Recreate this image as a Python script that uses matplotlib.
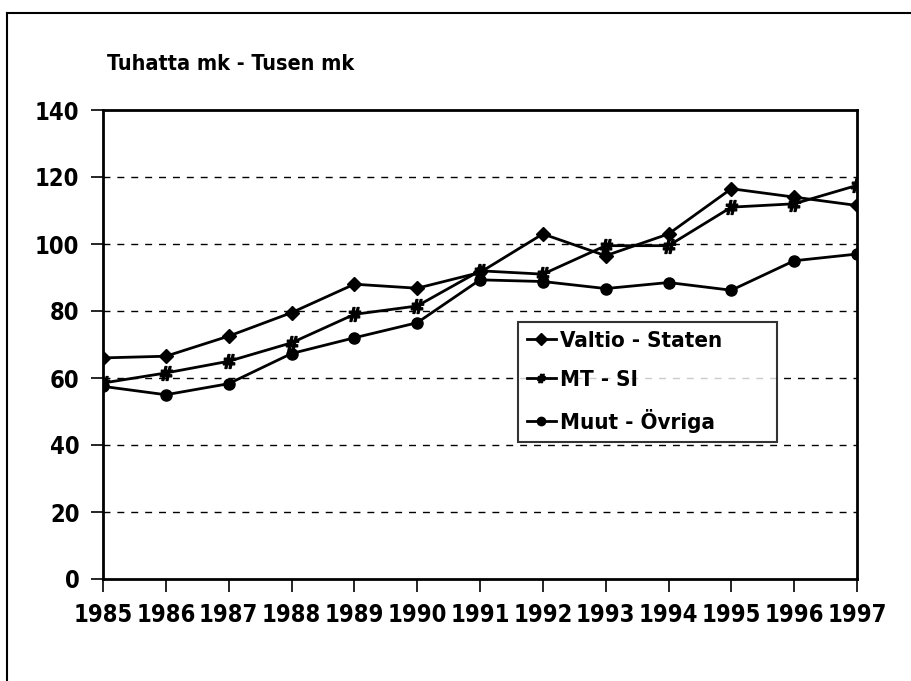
import numpy as np
import matplotlib
matplotlib.use("Agg")
import matplotlib.pyplot as plt
from matplotlib.lines import Line2D
from matplotlib import font_manager

names = {f.name for f in font_manager.fontManager.ttflist}
fam = [n for n in ['Liberation Sans Narrow', 'DejaVu Sans Condensed', 'DejaVu Sans'] if n in names]
plt.rcParams['font.family'] = fam
plt.rcParams['font.weight'] = 'bold'
plt.rcParams['font.stretch'] = 'condensed'

# data
years = [1985, 1986, 1987, 1988, 1989, 1990, 1991, 1992, 1993, 1994, 1995, 1996, 1997]
valtio = [66, 66.5, 72.5, 79.5, 88, 86.8, 91.5, 103, 96.5, 103, 116.5, 114, 111.5]
mt = [58.5, 61.5, 65, 70.5, 79, 81.5, 92, 91, 99.5, 99.5, 111, 112, 117.5]
muut = [57.5, 55, 58.3, 67.3, 72, 76.5, 89.3, 88.8, 86.7, 88.5, 86.2, 95, 97]
labels = ['Valtio - Staten', 'MT - SI', 'Muut - Övriga']
yticks = [0, 20, 40, 60, 80, 100, 120, 140]

fig = plt.figure(figsize=(9.11, 6.81), dpi=100)
ax = fig.add_axes([103 / 911, 1 - 579 / 681, (857 - 103) / 911, (579 - 110) / 681])

# outer frame (top and left lines visible)
fig.add_artist(Line2D([7 / 911, 7 / 911], [0, 1 - 13 / 681], color='black', lw=1.5,
                      transform=fig.transFigure))
fig.add_artist(Line2D([7 / 911, 1], [1 - 13 / 681, 1 - 13 / 681], color='black', lw=1.5,
                      transform=fig.transFigure))

ax.plot(years, valtio, color='black', lw=2, marker='D', ms=7, label=labels[0])
ax.plot(years, mt, color='black', lw=2, marker=r'$\#$', ms=10, label=labels[1])
ax.plot(years, muut, color='black', lw=2, marker='o', ms=8, label=labels[2])

ax.set_xlim(1985, 1997)
ax.set_ylim(0, 140)
ax.set_xticks(years)
ax.set_yticks(yticks)
for y in yticks[1:-1]:
    ax.axhline(y, color='black', lw=1, ls=(0, (5, 5)), zorder=0)

for s in ax.spines.values():
    s.set_linewidth(2)
ax.tick_params(axis='both', direction='out', length=9, width=1.2, labelsize=17, pad=8)
for lab in ax.get_xticklabels() + ax.get_yticklabels():
    lab.set_fontweight('bold')

ax.text(0.005, 1.076, 'Tuhatta mk - Tusen mk', transform=ax.transAxes, fontsize=15.5,
        fontweight='bold', ha='left', va='bottom')

x0 = (518 - 103) / 754
w = (777 - 518) / 754
top = 1 - (322 - 110) / 469
leg = ax.legend(loc='upper left', bbox_to_anchor=(x0, top - 0.3, w, 0.3), mode='expand',
                frameon=True, fancybox=False, edgecolor='black',
                handlelength=1.3, handletextpad=0.2, borderpad=0.4, labelspacing=0.85,
                borderaxespad=0, prop={'weight': 'bold', 'size': 16, 'stretch': 'condensed'})
leg.get_frame().set_linewidth(1.5)
for h in leg.legend_handles:
    h.set_markersize(6)

fig.savefig('out.png', dpi=100)
